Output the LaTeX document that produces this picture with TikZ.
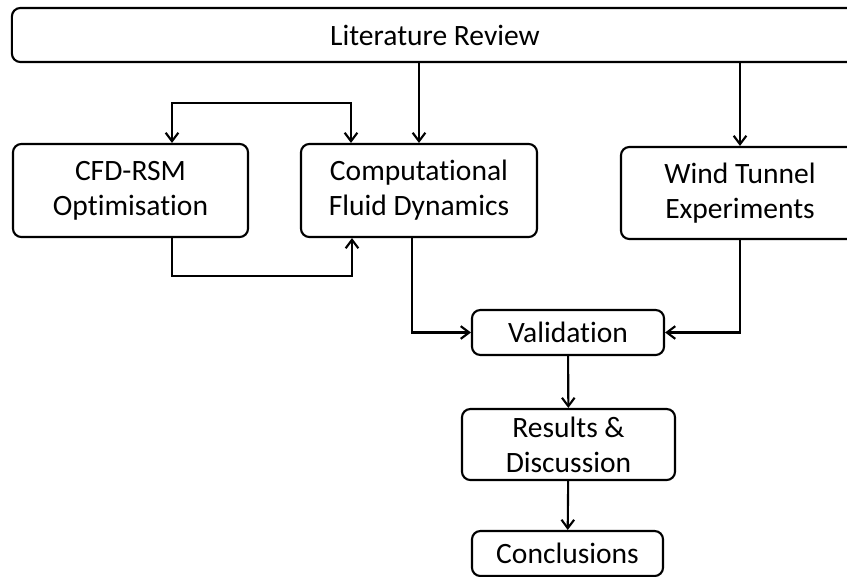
\documentclass[tikz,border=0pt]{standalone}
\usepackage{fontspec}
\setmainfont[Ligatures={NoCommon}]{Carlito}
\usetikzlibrary{arrows.meta}

\tikzset{
  stage/.style={draw, line width=1.5pt, rounded corners=6pt, align=center,
    inner sep=0pt, font=\fontsize{21}{25}\selectfont},
  flow/.style={line width=1.5pt, -{Straight Barb[length=6pt,width=9pt]}},
  twoflow/.style={line width=1.5pt, {Straight Barb[length=6pt,width=9pt]}-{Straight Barb[length=6pt,width=9pt]}},
}

\begin{document}
\begin{tikzpicture}[x=0.025cm, y=-0.025cm]
  \clip (0,0) rectangle (847,577);
  % stages
  \node[stage, minimum width=21.15cm, minimum height=1.35cm] (lit) at (435,35) {Literature Review};
  \node[stage, minimum width=5.875cm, minimum height=2.325cm] (rsm) at (130.5,190.5) {CFD-RSM\\Optimisation};
  \node[stage, minimum width=5.9cm, minimum height=2.325cm] (cfd) at (419,190.5) {Computational\\Fluid Dynamics};
  \node[stage, minimum width=5.95cm, minimum height=2.3cm] (wind) at (740,193) {Wind Tunnel\\Experiments};
  \node[stage, minimum width=4.8cm, minimum height=1.125cm] (val) at (568,332.5) {Validation};
  \node[stage, minimum width=5.325cm, minimum height=1.775cm] (res) at (568.5,444.5) {Results \&\\Discussion};
  \node[stage, minimum width=4.775cm, minimum height=1.125cm] (con) at (567.5,553.5) {Conclusions};
  % loop between optimisation and CFD
  \coordinate (loopL) at (172,103);
  \coordinate (loopR) at (351,103);
  \coordinate (backL) at (172,276);
  \coordinate (backR) at (352,276);
  \coordinate (cfdout) at (412,0);
  % connectors
  \draw[flow] (lit.south -| cfd.north) -- (cfd.north);
  \draw[flow] (lit.south -| wind.north) -- (wind.north);
  \draw[twoflow] (loopL |- rsm.north) -- (loopL) -- (loopR) -- (loopR |- cfd.north);
  \draw[flow] (backL |- rsm.south) -- (backL) -- (backR) -- (backR |- cfd.south);
  \draw[flow] (cfdout |- cfd.south) |- (val.west);
  \draw[flow] (wind.south) |- (val.east);
  \draw[flow] (val) -- (res);
  \draw[flow] (res) -- (con);
\end{tikzpicture}
\end{document}
